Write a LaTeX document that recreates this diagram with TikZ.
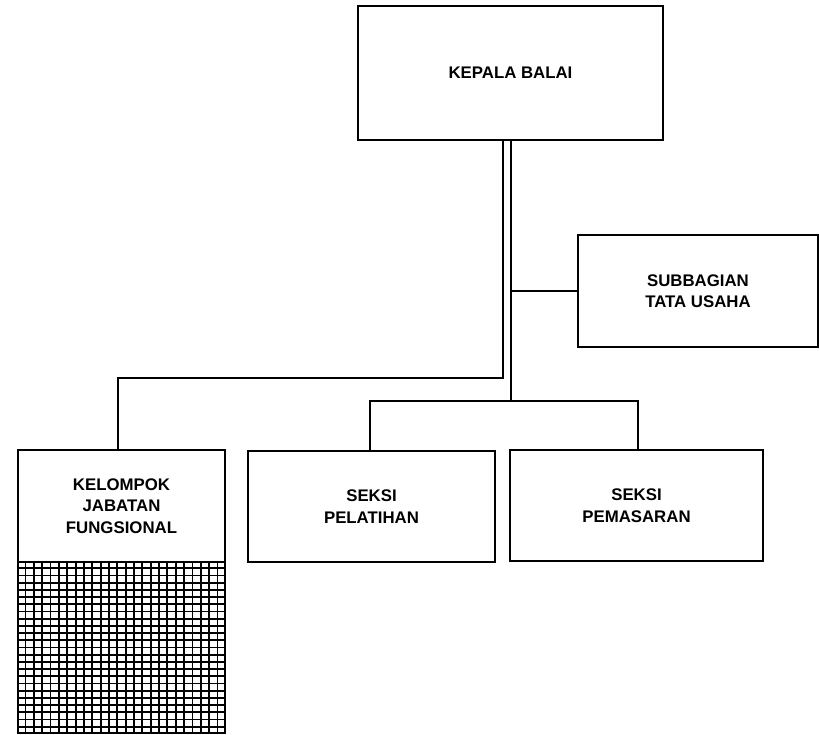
\documentclass[tikz,border=0pt]{standalone}
\usepackage{fontspec}
\setmainfont{Liberation Sans}
\usetikzlibrary{calc}
\begin{document}
\begin{tikzpicture}[x={(1pt,0)},y={(0,-1pt)},
  orgbox/.style={draw=black,line width=1.6pt,rectangle,inner sep=0pt,align=center,
    font=\fontsize{16.8}{21.5}\selectfont\bfseries},
  conn/.style={draw=black,line width=1.6pt},
  gridline/.style={draw=black,line width=1.8pt}]
\useasboundingbox (0,0) rectangle (819,734);
\node[orgbox,minimum width=305pt,minimum height=134pt] (kep) at (510.5,73) {KEPALA BALAI};
\node[orgbox,minimum width=240pt,minimum height=112pt] (sub) at (698,291) {SUBBAGIAN\\TATA USAHA};
\node[orgbox,minimum width=207pt,minimum height=112pt] (kel) at (121.5,506) {KELOMPOK\\JABATAN\\FUNGSIONAL};
\node[orgbox,minimum width=207pt,minimum height=171pt] (hat) at (121.5,647.5) {};
\node[orgbox,minimum width=247pt,minimum height=111pt] (pel) at (371.5,506.5) {SEKSI\\PELATIHAN};
\node[orgbox,minimum width=253pt,minimum height=111pt] (pem) at (636.5,505.5) {SEKSI\\PEMASARAN};
% hatching
\foreach \i in {1,...,24}{
  \draw[gridline] ($(hat.north west)!\i/25!(hat.north east)$) -- ($(hat.south west)!\i/25!(hat.south east)$);
}
\foreach \j in {1,...,23}{
  \draw[gridline] ($(hat.north west)!\j/24!(hat.south west)$) -- ($(hat.north east)!\j/24!(hat.south east)$);
}
% connectors
\coordinate (jA) at (503,378);
\coordinate (jB) at (511,401);
\draw[conn] (kep.south -| jA) -- (jA) -| ([xshift=-3.5pt]kel.north);
\draw[conn] (kep.south -| jB) -- (jB);
\draw[conn] (jB |- sub.west) -- (sub.west);
\draw[conn] ([xshift=-1.5pt]pel.north) |- (jB) -| ([xshift=1.5pt]pem.north);
\end{tikzpicture}
\end{document}
